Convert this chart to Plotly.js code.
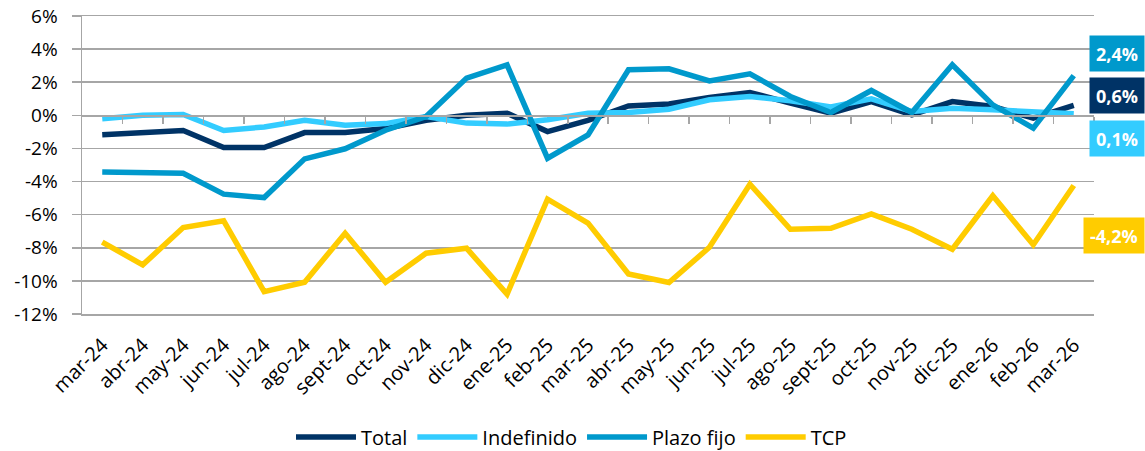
<!DOCTYPE html>
<html>
<head>
<meta charset="utf-8">
<script src="https://cdn.plot.ly/plotly-3.0.1.min.js"></script>
<style>
  html, body { margin: 0; padding: 0; background: #fff; }
  #chart { width: 1145px; height: 451px; }
</style>
</head>
<body>
<div id="chart"></div>
<script>
const categories = ["mar-24","abr-24","may-24","jun-24","jul-24","ago-24","sept-24","oct-24","nov-24","dic-24","ene-25","feb-25","mar-25","abr-25","may-25","jun-25","jul-25","ago-25","sept-25","oct-25","nov-25","dic-25","ene-26","feb-26","mar-26"];

const total      = [-1.18,-1.04,-0.92,-1.95,-1.95,-1.04,-1.04,-0.80,-0.30, 0.00, 0.13,-0.98,-0.30, 0.57, 0.69, 1.08, 1.38, 0.74, 0.13, 0.83, 0.03, 0.83, 0.53,-0.17, 0.60];
const indefinido = [-0.20, 0.00, 0.05,-0.92,-0.70,-0.30,-0.60,-0.50,-0.07,-0.47,-0.53,-0.27, 0.13, 0.17, 0.37, 0.94, 1.14, 0.88, 0.50, 1.00, 0.23, 0.43, 0.33, 0.23, 0.10];
const plazoFijo  = [-3.43,-3.47,-3.50,-4.76,-4.97,-2.63,-2.02,-0.90,-0.07, 2.25, 3.05,-2.59,-1.18, 2.75, 2.81, 2.08, 2.51, 1.14, 0.17, 1.50, 0.17, 3.05, 0.63,-0.77, 2.40];
const tcp        = [-7.66,-9.03,-6.78,-6.37,-10.65,-10.08,-7.12,-10.08,-8.33,-8.03,-10.80,-5.06,-6.51,-9.58,-10.10,-7.97,-4.16,-6.88,-6.82,-5.95,-6.88,-8.09,-4.86,-7.82,-4.24];

const seriesNames = ["Total","Indefinido","Plazo fijo","TCP"];
const seriesData = [total, indefinido, plazoFijo, tcp];
const seriesColors = ["#003366","#33CCFF","#0099CC","#FFCC00"];
const labelShifts = [10, -25, 22, -50];  // vertical offsets of end labels (px)

const yTicks = [-12,-10,-8,-6,-4,-2,0,2,4,6];

const FONT = "'Open Sans', 'Noto Sans', sans-serif";
const GRID = "#A6A6A6";

const traces = seriesData.map((d, k) => ({
  type: "scatter",
  mode: "lines",
  name: seriesNames[k],
  x: categories.map((c, i) => i),
  y: d,
  line: { color: seriesColors[k], width: 5.5 },
  hoverinfo: "skip",
  xaxis: "x",
  yaxis: "y"
}));

// invisible helper trace to activate the tick-mark axis drawn at 0%
traces.push({
  type: "scatter", mode: "lines", x: [0], y: [0], xaxis: "x2", yaxis: "y",
  showlegend: false, hoverinfo: "skip", line: { color: "rgba(0,0,0,0)" }
});

const fmt = v => (Math.round(v * 10) / 10).toFixed(1).replace(".", ",") + "%";

const annotations = seriesData.map((d, k) => ({
  xref: "paper", yref: "y",
  x: 1.0504, y: d[d.length - 1],
  xanchor: "right", yanchor: "middle",
  yshift: labelShifts[k],
  text: "<b>" + fmt(d[d.length - 1]) + "</b>",
  showarrow: false,
  bgcolor: seriesColors[k],
  borderpad: 6,
  height: 23,
  font: { family: FONT, size: 18, color: "#FFFFFF" }
}));

const layout = {
  width: 1145, height: 451,
  margin: { l: 82, r: 51, t: 16, b: 137, autoexpand: false },
  paper_bgcolor: "#FFFFFF", plot_bgcolor: "#FFFFFF",
  font: { family: FONT, size: 19, color: "#000000" },
  showlegend: true,
  legend: {
    orientation: "h", x: 0.4837, xanchor: "center", y: -0.4128, yanchor: "middle",
    font: { family: FONT, size: 20, color: "#000" },
    itemwidth: 60,
    traceorder: "normal"
  },
  xaxis: {
    type: "linear",
    automargin: false,
    range: [-0.5, categories.length - 0.5],
    tickmode: "array",
    tickvals: categories.map((c, i) => i),
    ticktext: categories,
    tickangle: -45,
    ticklabelstandoff: 10,
    showgrid: false, zeroline: false,
    showline: true, mirror: true, linecolor: GRID, linewidth: 1.5,
    ticks: "",
    tickfont: { family: FONT, size: 20, color: "#000" },
    fixedrange: true
  },
  xaxis2: {
    type: "linear",
    overlaying: "x",
    anchor: "free",
    automargin: false,
    position: (0 - yTicks[0]) / (yTicks[yTicks.length - 1] - yTicks[0]),
    range: [-0.5, categories.length - 0.5],
    tickmode: "array",
    tickvals: categories.map((c, i) => i + 0.5),
    showticklabels: false,
    ticks: "outside", ticklen: 7, tickwidth: 1.5, tickcolor: GRID,
    showline: true, linecolor: GRID, linewidth: 1.5,
    showgrid: false, zeroline: false,
    fixedrange: true
  },
  yaxis: {
    automargin: false,
    range: [yTicks[0], yTicks[yTicks.length - 1]],
    tickmode: "array",
    tickvals: yTicks,
    ticktext: yTicks.map(v => v + "%"),
    showgrid: true, gridcolor: GRID, gridwidth: 1.5,
    zeroline: false,
    showline: true, linecolor: GRID, linewidth: 1.5,
    ticks: "outside", ticklen: 9, tickwidth: 1.5, tickcolor: GRID,
    ticklabelstandoff: 10,
    tickfont: { family: FONT, size: 19, color: "#000" },
    fixedrange: true
  },
  annotations: annotations
};

Plotly.newPlot("chart", traces, layout, { displayModeBar: false, staticPlot: true });
</script>
</body>
</html>
